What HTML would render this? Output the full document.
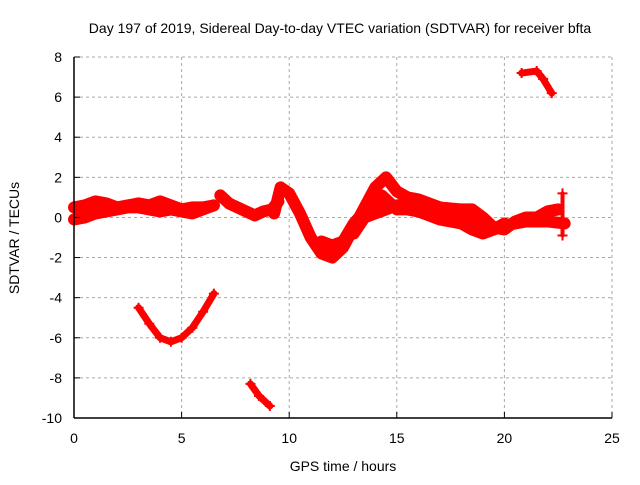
<!DOCTYPE html>
<html><head><meta charset="utf-8"><style>
body{margin:0;background:#fff}
svg text{font-family:"Liberation Sans",sans-serif;font-size:14px;fill:#000}
</style></head><body>
<svg id="c" width="640" height="480">
<text x="340" y="33" text-anchor="middle">Day 197 of 2019, Sidereal Day-to-day VTEC variation (SDTVAR) for receiver bfta</text>
<text x="343" y="471" text-anchor="middle">GPS time / hours</text>
<text transform="translate(19,238) rotate(-90)" text-anchor="middle">SDTVAR / TECUs</text>
<g id="grid"></g><g id="marks"></g><g id="axes"></g>
</svg>
<script>
const xTicks=[0,5,10,15,20,25];
const yTicks=[-10,-8,-6,-4,-2,0,2,4,6,8];
const seriesA=[[0,0.5],[0.5,0.6],[1,0.8],[1.5,0.7],[2,0.5],[2.5,0.6],[3,0.7],[3.5,0.6],[4,0.8],[4.5,0.6],[5,0.4],[5.5,0.5],[6,0.5],[6.5,0.6]];
const seriesB=[[0,-0.1],[0.5,0],[1,0.2],[1.5,0.3],[2,0.4],[2.5,0.5],[3,0.5],[3.5,0.4],[4,0.3],[4.5,0.4],[5,0.3],[5.5,0.2],[6,0.4],[6.5,0.6]];
const seriesC=[[6.8,1.1],[7.2,0.7],[7.6,0.5],[8,0.3],[8.4,0.1],[8.8,0.3],[9.2,0.4],[9.5,0.8]];
const seriesD=[[9.3,0.2],[9.6,1.5],[10,1.2],[10.5,0.2],[11,-1],[11.5,-1.8],[12,-2],[12.5,-1.5],[13,-0.5],[13.5,0.5],[14,1.5],[14.5,2],[15,1.3],[15.5,1.0],[16,0.9],[16.5,0.7],[17,0.5],[17.5,0.2],[18,0.1],[18.5,-0.1],[19,-0.6],[19.5,-0.6],[20,-0.3]];
const seriesE=[[11.5,-1.2],[12,-1.4],[12.5,-1.2],[13,-0.3],[13.5,0.3],[14,0.7],[14.3,1.1],[15,0.4],[15.5,0.4],[16,0.3],[17,-0.1],[18,-0.3],[18.5,-0.6],[19,-0.8],[20,-0.4],[21,-0.2],[22,-0.2],[22.8,-0.3]];
const seriesF=[[13,-0.8],[13.5,0],[14,0.2],[15,0.6],[16,0.7],[17,0.5],[18,0.4],[18.5,0.4],[19,0],[19.5,-0.5],[20,-0.6],[20.5,-0.2],[21,0],[21.5,0],[22,0.3],[22.5,0.4]];
const seriesG=[[3,-4.5],[3.5,-5.3],[4,-6],[4.5,-6.2],[5,-6],[5.5,-5.5],[6,-4.7],[6.5,-3.8]];
const seriesH=[[8.2,-8.3],[8.6,-8.9],[9.1,-9.4]];
const seriesI=[[20.8,7.2],[21.5,7.3],[21.8,6.9],[22.2,6.2]];
const seriesJ=[[22.7,1.2],[22.7,-0.9]];
const allSeries=[seriesA,seriesB,seriesC,seriesD,seriesE,seriesF,seriesG,seriesH,seriesI,seriesJ];
const X=v=>74+v*(612-74)/25;
const Y=v=>418-(v+10)*(418-57)/18;
const NS='http://www.w3.org/2000/svg';
function mk(t,a,p){const e=document.createElementNS(NS,t);for(const k in a)e.setAttribute(k,a[k]);p.appendChild(e);return e;}
const grid=document.getElementById('grid'),axes=document.getElementById('axes'),marks=document.getElementById('marks');
xTicks.forEach(t=>{
 if(t>0){const g=mk('line',{x1:X(t),x2:X(t),y1:57,y2:418,stroke:'#aaa','stroke-dasharray':'3,3'},grid);
 
 }
 const l=mk('text',{x:X(t),y:443,'text-anchor':'middle'},axes);l.textContent=t;
 
 
 mk('line',{x1:X(t),x2:X(t),y1:418,y2:412,stroke:'#000'},axes);
});
yTicks.forEach(t=>{
 if(t>-10){const g=mk('line',{x1:74,x2:612,y1:Y(t),y2:Y(t),stroke:'#aaa','stroke-dasharray':'3,3'},grid);
 
 }
 const l=mk('text',{x:62,y:Y(t)+5,'text-anchor':'end'},axes);l.textContent=t;
 
 
 mk('line',{x1:74,x2:80,y1:Y(t),y2:Y(t),stroke:'#000'},axes);
});
mk('line',{x1:74,x2:74,y1:57,y2:418,stroke:'#000','stroke-width':1.5},axes);
mk('line',{x1:74,x2:612,y1:418,y2:418,stroke:'#000','stroke-width':1.5},axes);
allSeries.forEach((s,i)=>{
 const pl=mk('polyline',{points:s.map(p=>X(p[0])+','+Y(p[1])).join(' '),fill:'none',stroke:'#f00','stroke-width':i>=6?(i==9?4:7):12,'stroke-linejoin':'round','stroke-linecap':'round'},marks);
 
 
 s.forEach(p=>{
  const m=mk('path',{d:`M${X(p[0])-5},${Y(p[1])}h10M${X(p[0])},${Y(p[1])-5}v10`,stroke:'#f00','stroke-width':2},marks);
  
  
 });
});
</script>
</body></html>
